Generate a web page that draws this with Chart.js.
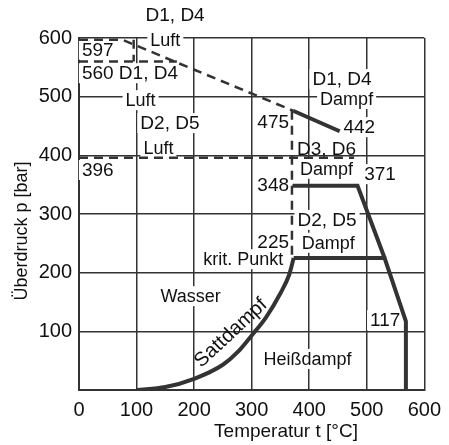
<!DOCTYPE html>
<html>
<head>
<meta charset="utf-8">
<script src="https://cdn.jsdelivr.net/npm/chart.js@4"></script>
<style>
html,body{margin:0;padding:0;background:#fff;}
#wrap{width:449px;height:445px;position:relative;}
</style>
</head>
<body>
<div id="wrap"><canvas id="c" width="449" height="445"></canvas></div>
<script>
// ---- data (t in °C, p in bar) ----
const xTicks = [0, 100, 200, 300, 400, 500, 600];
const yTicks = [0, 100, 200, 300, 400, 500, 600];

// saturation curve (Sattdampf)
const satT = [100, 150, 200, 250, 275, 300, 325, 350, 365, 373];
const satP = [0, 5, 19, 43, 64, 93, 124, 165, 196, 225];

// thick limit lines (Dampf)
const steamAT = [373, 531, 568, 568];
const steamAP = [225, 225, 117, 0];
const steamBT = [371, 484, 531];
const steamBP = [348, 348, 225];
const steamCT = [372, 453];
const steamCP = [476, 441];

// dashed limit lines (Luft)
const airAT = [0, 75, 372];
const airAP = [597, 597, 476];
const airBT = [0, 170];
const airBP = [560, 560];
const airCT = [95, 95];
const airCP = [597, 560];
const airDT = [0, 478];
const airDP = [396, 396];
const airET = [370, 370];
const airEP = [476, 225];

// text labels
const labelText = ["D1, D4", "Luft", "597", "560 D1, D4", "Luft", "D2, D5", "Luft", "396",
  "D1, D4", "Dampf", "475", "442", "D3, D6", "Dampf", "371", "348", "D2, D5", "Dampf",
  "225", "krit. Punkt", "Wasser", "Heißdampf", "117"];
const labelT = [167, 150, 5, 5, 107, 158, 138, 5, 457, 465, 365, 487, 430, 430, 523, 365, 431, 433, 365, 355, 194, 397, 532];
const labelP = [639, 597, 580, 540, 494, 455, 412, 375, 530, 496, 458, 448, 412, 377, 368, 349, 290, 251, 252, 223, 160, 53, 119];

const xTitle = 'Temperatur t [°C]';
const yTitle = 'Überdruck p [bar]';

function pts(xs, ys){ return xs.map((x,i)=>({x:x, y:ys[i]})); }

const FONT = '"Liberation Sans", Arial, sans-serif';
const LINE = '#333333';
const thick = {showLine:true, pointRadius:0, borderColor:LINE, borderWidth:4, fill:false, borderJoinStyle:'miter', borderCapStyle:'butt'};
const dashed = {showLine:true, pointRadius:0, borderColor:LINE, borderWidth:2.5, borderDash:[9,6], fill:false};

const leftLabels = new Set([2,3,7]);
const rightLabels = new Set([10,15,18,19]);
const noBg = new Set([12]);

const labelPlugin = {
  id:'labels',
  beforeDatasetsDraw(chart){
    const ctx = chart.ctx, xs = chart.scales.x, ys = chart.scales.y;
    ctx.save();
    labelText.forEach((txt,i)=>{
      const px = xs.getPixelForValue(labelT[i]);
      const py = ys.getPixelForValue(labelP[i]);
      const isWord = /Luft|Dampf|Wasser|krit|Heiß/.test(txt);
      ctx.font = (isWord ? '18px ' : '19px ') + FONT;
      const w = ctx.measureText(txt).width;
      let x0;
      if (leftLabels.has(i)) x0 = px;
      else if (rightLabels.has(i)) x0 = px - w;
      else x0 = px - w/2;
      if (!noBg.has(i)) {
        ctx.fillStyle = '#fff';
        ctx.fillRect(x0-3, py-10, w+6, 20);
      }
      ctx.fillStyle = '#111';
      ctx.textBaseline = 'middle';
      ctx.textAlign = 'left';
      ctx.fillText(txt, x0, py+1);
    });
    ctx.restore();
  },
  afterDatasetsDraw(chart){
    const ctx = chart.ctx, xs = chart.scales.x, ys = chart.scales.y;
    ctx.save();
    const px = xs.getPixelForValue(264), py = ys.getPixelForValue(97);
    ctx.translate(px, py);
    ctx.rotate(-43*Math.PI/180);
    ctx.font = '20px ' + FONT;
    ctx.fillStyle = '#111';
    ctx.textAlign = 'center';
    ctx.textBaseline = 'middle';
    ctx.fillText('Sattdampf', 0, 0);
    ctx.restore();
  },
  afterDraw(chart){
    const ctx = chart.ctx;
    ctx.save();
    ctx.fillStyle = '#111';
    ctx.textAlign = 'center';
    ctx.textBaseline = 'middle';
    ctx.font = '19px ' + FONT;
    ctx.fillText(xTitle, 286, 432);
    ctx.translate(22, 231);
    ctx.rotate(-Math.PI/2);
    ctx.font = '18px ' + FONT;
    ctx.fillText(yTitle, 0, 0);
    ctx.restore();
  }
};

new Chart(document.getElementById('c'), {
  type:'scatter',
  data:{datasets:[
    Object.assign({data:pts(satT,satP), cubicInterpolationMode:'monotone'}, thick),
    Object.assign({data:pts(steamAT,steamAP)}, thick),
    Object.assign({data:pts(steamBT,steamBP)}, thick),
    Object.assign({data:pts(steamCT,steamCP)}, thick),
    Object.assign({data:pts(airAT,airAP)}, dashed),
    Object.assign({data:pts(airBT,airBP)}, dashed),
    Object.assign({data:pts(airCT,airCP)}, dashed),
    Object.assign({data:pts(airDT,airDP)}, dashed),
    Object.assign({data:pts(airET,airEP)}, dashed)
  ]},
  options:{
    responsive:false, animation:false, devicePixelRatio:1,
    layout:{padding:{left:0, top:38, right:18, bottom:0}},
    plugins:{legend:{display:false}, tooltip:{enabled:false}},
    scales:{
      x:{type:'linear', min:0, max:600,
        afterBuildTicks(s){ s.ticks = xTicks.map(v=>({value:v})); },
        afterFit(s){ s.height = 55; },
        grid:{color:LINE, lineWidth:1.5, drawTicks:false},
        border:{color:LINE, width:2},
        ticks:{color:'#111', padding:8, font:{size:20, family:FONT}, maxRotation:0},
        title:{display:false}
      },
      y:{type:'linear', min:0, max:600,
        afterBuildTicks(s){ s.ticks = yTicks.map(v=>({value:v})); },
        afterFit(s){ s.width = 79; },
        grid:{color:LINE, lineWidth:1.5, drawTicks:false},
        border:{color:LINE, width:2},
        ticks:{color:'#111', padding:7, font:{size:20, family:FONT}, callback:v=> v===0 ? '' : v},
        title:{display:false}
      }
    }
  },
  plugins:[labelPlugin]
});
</script>
</body>
</html>
